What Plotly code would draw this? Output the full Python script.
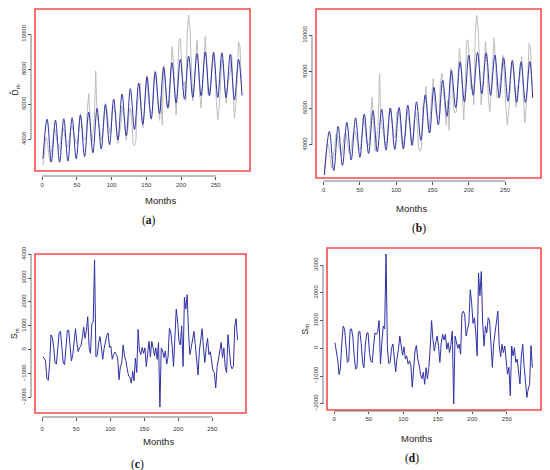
import plotly.graph_objects as go

# monthly grid for the noisy series (every second month)
months = list(range(1, 288, 2))

# observed demand (grey line in a and b)
demand = [2530, 3100, 4110, 3950, 3260, 2710, 3310, 3790, 4600, 4550, 3900, 3590,
          3410, 4080, 4630, 4610, 3950, 3560, 3550, 4200, 4660, 4760, 4440, 3950,
          3760, 3800, 4680, 5480, 4940, 4100, 3960, 4130, 5720, 6600, 5070, 3650,
          4320, 5000, 7900, 5460, 4930, 4320, 3990, 4180, 4950, 6040, 5700, 4870,
          4390, 4440, 5800, 5900, 5520, 4450, 3770, 4280, 4690, 5890, 5440, 5000,
          3950, 4420, 5420, 5790, 5160, 3740, 3650, 3920, 6200, 6260, 7200, 5390,
          4650, 5630, 6730, 7640, 6260, 5700, 5500, 5530, 7530, 7930, 7010, 6150,
          5080, 6440, 4800, 8210, 7500, 6050, 5750, 5840, 7430, 9280, 8550, 6800,
          5380, 7200, 9640, 9760, 8340, 7060, 7290, 6200, 10100, 11100, 10300, 7730,
          6190, 7100, 8690, 9660, 8510, 6550, 5800, 7060, 8840, 9860, 8440, 6580,
          6560, 7590, 8160, 8900, 7860, 6160, 5100, 5800, 7560, 8540, 8250, 7330,
          6060, 7090, 7500, 7900, 8830, 6990, 5200, 6000, 7280, 9560, 9300, 7270]

# fitted curve (a): troughs and peaks
fit_a_months = list(range(1, 284, 6)) + [288]
fit_a = [2880, 5150, 2690, 5100, 2690, 5170, 2750, 5230, 2880, 5380, 3010, 5550,
         3220, 5760, 3440, 5990, 3690, 6300, 3970, 6590, 4200, 6890, 4550, 7210,
         4850, 7560, 5150, 7850, 5480, 8130, 5800, 8375, 6080, 8560, 6290, 8750,
         6390, 8890, 6480, 8980, 6480, 8980, 6390, 8940, 6390, 8850, 6240, 8560, 6500]

# fitted curve (b): troughs and peaks
fit_b_months = [1] + list(range(8, 285, 6)) + [288]
fit_b = [2350, 4740, 2600, 5010, 2870, 5240, 3170, 5480, 3320, 5690, 3530, 5870,
         3620, 5960, 3710, 6020, 3750, 6050, 3800, 6180, 3980, 6360, 4250, 6740,
         4650, 7150, 5100, 7550, 5570, 8070, 6040, 8550, 6350, 8920, 6720, 9060,
         6810, 9040, 6720, 8920, 6600, 8770, 6390, 8630, 6340, 8550, 6330, 8560, 6580]

# residuals (c)
resid_c = [-300, -350, -470, -1200, -1280, -600, 620, 500, 100, -550, -600, 300,
           720, 770, 80, -560, -620, 200, 800, 830, 50, -470, -200, 480,
           880, 300, -80, 100, 150, 500, 950, 480, 800, 1380, 100, -150,
           1100, 1150, 3760, -300, -250, 300, 550, 100, -400, 50, 280, 600,
           700, 100, 150, -400, -200, -100, -200, -350, -1250, -700, -550, 200,
           -250, -450, -800, -1100, -1150, -1400, -900, -1300, -350, -950, 850, -50,
           -200, 100, -150, 80, -700, -50, 350, -300, 350, 80, -250, 80,
           -400, 300, -2400, 80, -50, -330, -50, -600, -300, 900, 750, 150,
           -700, 500, 1700, 1200, 350, 200, 1000, -700, 2200, 1700, 2300, 750,
           -200, 80, 420, 770, 220, -530, -1050, -50, 480, 880, 80, -530,
           80, 480, -200, -80, -470, -880, -950, -1600, -740, -400, -50, 300,
           -330, 80, -740, -950, 630, 100, -650, -800, -700, 1000, 1300, 400]

# residuals (d)
resid_d = [200, -50, -400, -950, -700, 200, 800, 700, -100, -510, -450, 680,
           700, 400, -300, -750, -700, 580, 620, 200, -500, -700, 100, 540,
           560, -155, -450, -510, 80, 550, 500, 600, 1000, -570, 200, 800,
           700, 3400, 0, -550, -500, 0, 150, -350, -850, -350, -50, 440,
           100, -250, 50, -390, -275, -570, -450, -600, -1400, -720, -100, 100,
           -400, -600, -950, -1100, -870, -1300, -700, -1100, -700, 0, 1000, 300,
           -100, 200, 440, 80, -510, 200, 500, 300, 500, -35, 200, -155,
           140, 620, -2010, 440, 150, 0, 150, -215, 1250, 1340, 1200, 440,
           680, 900, 2110, 1640, 900, 1100, 560, -275, 2710, 1900, 2770, 900,
           80, 800, 560, 1100, 1000, 80, -690, 200, 600, 1100, 1340, 100,
           -300, 140, -155, 80, -600, -935, -690, -1710, 80, -275, 20, -510,
           -390, -990, -1290, -275, 140, -630, -1110, -1770, -1470, -1300, 100, -700]

x_ticks = [0, 50, 100, 150, 200, 250]
y_ticks_ab = [4000, 6000, 8000, 10000]
y_ticks_c = [-2000, -1000, 0, 1000, 2000, 3000, 4000]
y_ticks_d = [-2000, -1000, 0, 1000, 2000, 3000]

# the page body keeps an 8px margin, so the figure is drawn 8px in from the corner
OFF = 8
W, H = 550 - OFF, 470 - OFF
GREY = '#bdbdbd'
BLUE = '#2f2fa8'
RED = '#ff4a4a'
AX = '#555555'
FONT = 'Liberation Sans, Arial, sans-serif'


def fx(px):
    return (px - OFF) / W


def fy(py):
    return 1 - (py - OFF) / H


def r_range(vals):
    # R style: data range plus 4% each side
    lo, hi = min(vals), max(vals)
    pad = 0.04 * (hi - lo)
    return [lo - pad, hi + pad]


fig = go.Figure()

# panel boxes in window pixels: left, top, right, bottom; axis offsets in pixels
panels = [
    dict(box=(35, 9, 250, 171), xoff=5, xstand=0, tlen=3, yt=y_ticks_ab, yr=r_range(demand),
         cap='a', ytitle='D\u0302<sub>m</sub>', months_y=200, cap_xy=(140, 220), ytitle_x=8),
    dict(box=(316, 9, 541, 178), xoff=3, xstand=0, tlen=3, yt=y_ticks_ab, yr=r_range(demand),
         cap='b', ytitle=None, months_y=208, cap_xy=(428, 228), ytitle_x=None),
    dict(box=(35, 254, 246, 413), xoff=4, xstand=3, tlen=3, yt=y_ticks_c, yr=r_range(resid_c),
         cap='c', ytitle='S<sub>m</sub>', months_y=441, cap_xy=(129, 464), ytitle_x=8),
    dict(box=(327, 248, 541, 410), xoff=1, xstand=0, tlen=2, yt=y_ticks_d, yr=r_range(resid_d),
         cap='d', ytitle='S<sub>m</sub>', months_y=438, cap_xy=(421, 458), ytitle_x=298),
]

series = [
    [(months, demand, GREY, 'linear'), (fit_a_months, fit_a, BLUE, 'spline')],
    [(months, demand, GREY, 'linear'), (fit_b_months, fit_b, BLUE, 'spline')],
    [(months, resid_c, BLUE, 'linear')],
    [(months, resid_d, BLUE, 'linear')],
]

shapes = []
annotations = []
xr = r_range([1, 288])

for i, (p, ser) in enumerate(zip(panels, series), start=1):
    sfx = '' if i == 1 else str(i)
    l, t, r, b = p['box']
    for xs, ys, col, shape in ser:
        fig.add_trace(go.Scatter(x=xs, y=ys, mode='lines', xaxis='x' + sfx, yaxis='y' + sfx,
                                 line=dict(color=col, width=1.0, shape=shape, smoothing=1.0),
                                 showlegend=False, hoverinfo='skip'))
    xpos = fy(b + p['xoff'])
    ypos = fx(l - 4)
    fig.layout['xaxis' + sfx] = dict(
        domain=[fx(l), fx(r)], range=xr, anchor='free', position=xpos, automargin=False,
        showline=False, showgrid=False, zeroline=False,
        ticks='outside', ticklen=p['tlen'], tickwidth=0.8, tickcolor=AX,
        ticklabelstandoff=p['xstand'],
        tickvals=x_ticks, tickformat='d', tickfont=dict(size=6, color='#333333', family=FONT))
    fig.layout['yaxis' + sfx] = dict(
        domain=[fy(b), fy(t)], range=p['yr'], anchor='free', position=ypos, automargin=False,
        showline=False, showgrid=False, zeroline=False,
        ticks='outside', ticklen=3, tickwidth=0.8, tickcolor=AX, tickangle=-90,
        tickvals=p['yt'], tickformat='d', tickfont=dict(size=6, color='#333333', family=FONT))
    # red frame
    shapes.append(dict(type='rect', xref='x%s domain' % sfx, yref='y%s domain' % sfx,
                       x0=0, x1=1, y0=0, y1=1, line=dict(color=RED, width=1.6)))
    # R style axis lines spanning first..last tick
    shapes.append(dict(type='line', xref='x' + sfx, yref='paper', x0=x_ticks[0], x1=x_ticks[-1],
                       y0=xpos, y1=xpos, line=dict(color=AX, width=0.8)))
    shapes.append(dict(type='line', xref='paper', yref='y' + sfx, x0=ypos, x1=ypos,
                       y0=p['yt'][0], y1=p['yt'][-1], line=dict(color=AX, width=0.8)))
    annotations.append(dict(text='Months', x=fx((l + r) / 2), y=fy(p['months_y']),
                            xref='paper', yref='paper', showarrow=False, yanchor='middle',
                            font=dict(size=9.5, color='#222222', family=FONT)))
    annotations.append(dict(text='(<b>%s</b>)' % p['cap'], x=fx(p['cap_xy'][0]), y=fy(p['cap_xy'][1]),
                            xref='paper', yref='paper', showarrow=False, yanchor='middle',
                            font=dict(size=11.5, color='#111111', family='Liberation Serif, serif')))
    if p['ytitle']:
        annotations.append(dict(text=p['ytitle'], x=fx(p['ytitle_x']), y=fy((t + b) / 2),
                                xref='paper', yref='paper', showarrow=False, textangle=-90,
                                xanchor='left', yanchor='middle', borderpad=0,
                                font=dict(size=8.5, color='#222222', family=FONT)))

fig.update_layout(width=W, height=H, margin=dict(l=0, r=0, t=0, b=0, autoexpand=False),
                  paper_bgcolor='white', plot_bgcolor='white',
                  shapes=shapes, annotations=annotations, showlegend=False)

fig.write_html("out.html")
